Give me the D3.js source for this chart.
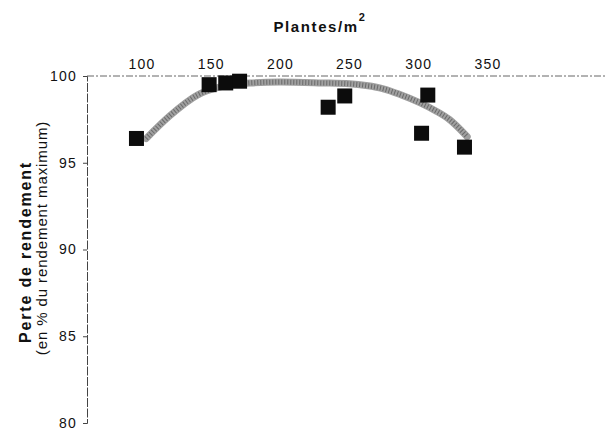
<!DOCTYPE html>
<html>
<head>
<meta charset="utf-8">
<script src="https://cdn.jsdelivr.net/npm/d3@7"></script>
<style>
  html, body { margin: 0; padding: 0; background: #fff; }
  svg { display: block; font-family: "Liberation Sans", Arial, sans-serif; }
</style>
</head>
<body>
<div id="chart"></div>
<script>
// observed points (plants/m2, % of max yield)
const pointX = [96, 148.5, 160.5, 170.5, 234.5, 246.5, 302, 306.5, 333];
const pointY = [96.4, 99.5, 99.6, 99.7, 98.2, 98.85, 96.7, 98.9, 95.9];

// fitted curve
const curveX = [103, 120, 140, 158, 178, 200, 230, 250, 262, 275, 286, 301, 312, 322, 335];
const curveY = [96.4, 97.7, 98.9, 99.4, 99.6, 99.65, 99.6, 99.55, 99.45, 99.25, 98.95, 98.45, 98.0, 97.5, 96.5];

const xTicks = [100, 150, 200, 250, 300, 350];
const yTicks = [100, 95, 90, 85, 80];

(() => {
  const width = 607, height = 433;

  const svg = d3.select("#chart").append("svg")
    .attr("width", width)
    .attr("height", height);

  // plot frame
  const x = d3.scaleLinear().domain([100, 350]).range([142, 488]);
  const y = d3.scaleLinear().domain([80, 100]).range([423, 76]);
  const axisLeftX = 87;

  // top axis line (at 100 %), dashed grey, runs to the right edge
  svg.append("line")
    .attr("x1", axisLeftX).attr("x2", 605)
    .attr("y1", y(100)).attr("y2", y(100))
    .attr("stroke", "#666")
    .attr("stroke-width", 1)
    .attr("stroke-dasharray", "7,2,2,2");

  // x tick labels above the line
  svg.append("g")
    .selectAll("text")
    .data(xTicks)
    .join("text")
    .attr("x", d => x(d))
    .attr("y", 69)
    .attr("text-anchor", "middle")
    .attr("font-size", 14)
    .attr("letter-spacing", 1.2)
    .attr("fill", "#111")
    .text(d => d);

  // title
  const title = svg.append("text")
    .attr("x", 320)
    .attr("y", 32)
    .attr("text-anchor", "middle")
    .attr("font-size", 15)
    .attr("font-weight", "bold")
    .attr("letter-spacing", 1.6)
    .attr("fill", "#111");
  title.append("tspan").text("Plantes/m");
  title.append("tspan")
    .attr("dy", -11)
    .attr("font-size", 11)
    .text("2");

  // y axis
  const yAxis = svg.append("g")
    .attr("transform", `translate(${axisLeftX},0)`)
    .call(d3.axisLeft(y).tickValues(yTicks).tickSize(4).tickPadding(6));
  yAxis.select(".domain")
    .attr("stroke", "#444")
    .attr("stroke-dasharray", "9,1.5");
  yAxis.selectAll(".tick line").attr("stroke", "#444");
  yAxis.selectAll(".tick text")
    .attr("font-size", 14)
    .attr("letter-spacing", 1.2)
    .attr("font-family", "Liberation Sans, Arial, sans-serif")
    .attr("fill", "#111");

  // y labels
  svg.append("text")
    .attr("transform", "translate(31,252) rotate(-90)")
    .attr("text-anchor", "middle")
    .attr("font-size", 16)
    .attr("font-weight", "bold")
    .attr("letter-spacing", 1.8)
    .attr("fill", "#111")
    .text("Perte de rendement");
  svg.append("text")
    .attr("transform", "translate(47,238) rotate(-90)")
    .attr("text-anchor", "middle")
    .attr("font-size", 15)
    .attr("letter-spacing", 0.9)
    .attr("fill", "#111")
    .text("(en % du rendement maximum)");

  // fitted curve: grey stippled band
  const curveData = curveX.map((v, i) => [v, curveY[i]]);
  const line = d3.line()
    .x(d => x(d[0]))
    .y(d => y(d[1]))
    .curve(d3.curveMonotoneX);

  svg.append("path")
    .datum(curveData)
    .attr("d", line)
    .attr("fill", "none")
    .attr("stroke", "#a0a0a0")
    .attr("stroke-width", 7)
    .attr("stroke-linecap", "round");
  svg.append("path")
    .datum(curveData)
    .attr("d", line)
    .attr("fill", "none")
    .attr("stroke", "#333")
    .attr("stroke-width", 5)
    .attr("stroke-dasharray", "1,2")
    .attr("opacity", 0.5);

  // observed squares
  const s = 15;
  svg.append("g")
    .selectAll("rect")
    .data(pointX.map((v, i) => [v, pointY[i]]))
    .join("rect")
    .attr("x", d => x(d[0]) - s / 2)
    .attr("y", d => y(d[1]) - s / 2)
    .attr("width", s)
    .attr("height", s)
    .attr("fill", "#0c0c0c");
})();
</script>
</body>
</html>
